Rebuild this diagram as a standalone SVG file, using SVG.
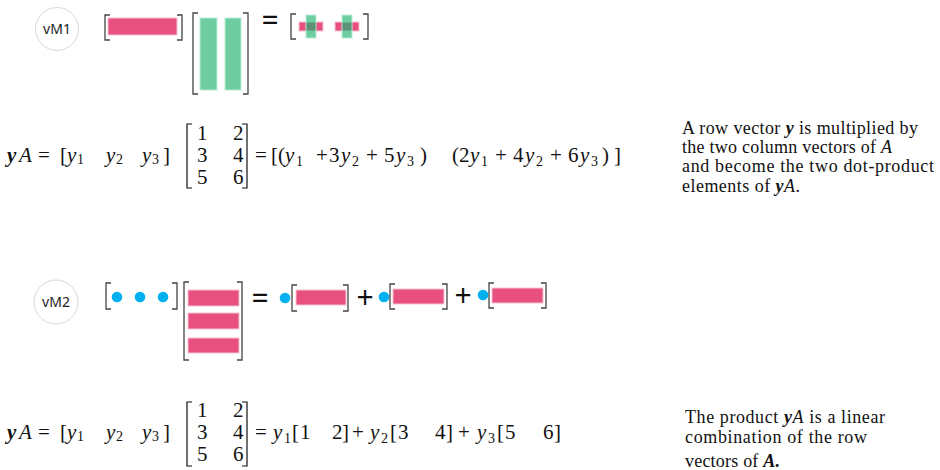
<svg xmlns="http://www.w3.org/2000/svg" width="940" height="470" viewBox="0 0 940 470">
<style>
.lbl{font-family:"Noto Sans","Open Sans",sans-serif;font-size:14px;fill:#222;text-anchor:middle}
.ring{fill:#fff;stroke:#d9d9d9;stroke-width:1}
.br{fill:none;stroke:#444;stroke-width:1.3}
.mbr{fill:none;stroke:#111;stroke-width:1.2}
.pk{fill:#E8507F;stroke:#f7c3d3;stroke-width:1}
.gr{fill:#6FCDA2;stroke:#bdeed6;stroke-width:1}
.ov{fill:#5E9078}
.dot{fill:#00B0F0}
.op{font-family:"Noto Sans","Open Sans",sans-serif;font-size:30px;fill:#111;text-anchor:middle}
.m{font-family:"Liberation Serif","Times New Roman",serif;font-size:21px;fill:#111}
.i{font-style:italic}
.bi{font-style:italic;font-weight:bold}
.s{font-size:14px}
.d{font-family:"Liberation Serif","Times New Roman",serif;font-size:18px;fill:#111}
</style>

<g id="vM1">
  <circle class="ring" cx="57" cy="29" r="21.5"/>
  <text class="lbl" x="57" y="34">vM1</text>
  <path class="br" d="M110,15 H105 V40 H110 M177,15 H182 V40 H177"/>
  <rect class="pk" x="108" y="18" width="69" height="17"/>
  <path class="br" d="M198,13 H193 V94 H198 M243,13 H248 V94 H243"/>
  <rect class="gr" x="200" y="18" width="17" height="72"/>
  <rect class="gr" x="225" y="18" width="16" height="72"/>
  <text class="op" x="270" y="31">=</text>
  <path class="br" d="M296,14 H291 V39 H296 M363,14 H368 V39 H363"/>
  <rect class="pk" x="299" y="22" width="24" height="9"/>
  <rect class="gr" x="306" y="15" width="10" height="23"/>
  <rect class="ov" x="306.5" y="22.5" width="9" height="8"/>
  <rect class="pk" x="335" y="22" width="24" height="9"/>
  <rect class="gr" x="342" y="15" width="10" height="23"/>
  <rect class="ov" x="342.5" y="22.5" width="9" height="8"/>
</g>

<g id="eq1" class="m">
  <text x="7" y="162" class="bi">y</text>
  <text x="19" y="162" class="i">A</text>
  <text x="38" y="162">=</text>
  <text x="60" y="162">[</text>
  <text x="67" y="162" class="i">y</text><text x="77" y="164" class="s">1</text>
  <text x="106" y="162" class="i">y</text><text x="116" y="164" class="s">2</text>
  <text x="142" y="162" class="i">y</text><text x="152" y="164" class="s">3</text>
  <text x="163" y="162">]</text>
  <path class="mbr" d="M192,124 H187 V188 H192 M242,124 H247 V188 H242"/>
  <text x="197" y="140">1</text><text x="233" y="140">2</text>
  <text x="197" y="162">3</text><text x="233" y="162">4</text>
  <text x="197" y="184">5</text><text x="233" y="184">6</text>
  <text x="255" y="162">=</text>
  <text x="271" y="162">[</text>
  <text x="278" y="162">(</text>
  <text x="285" y="162" class="i">y</text><text x="296" y="166" class="s">1</text>
  <text x="316" y="162">+</text>
  <text x="329" y="162">3</text>
  <text x="341" y="162" class="i">y</text><text x="352" y="166" class="s">2</text>
  <text x="366" y="162">+</text>
  <text x="384" y="162">5</text>
  <text x="396" y="162" class="i">y</text><text x="407" y="166" class="s">3</text>
  <text x="420" y="162">)</text>
  <text x="452" y="162">(</text>
  <text x="459" y="162">2</text>
  <text x="470" y="162" class="i">y</text><text x="481" y="166" class="s">1</text>
  <text x="495" y="162">+</text>
  <text x="513" y="162">4</text>
  <text x="525" y="162" class="i">y</text><text x="536" y="166" class="s">2</text>
  <text x="550" y="162">+</text>
  <text x="568" y="162">6</text>
  <text x="580" y="162" class="i">y</text><text x="591" y="166" class="s">3</text>
  <text x="602" y="162">)</text>
  <text x="614" y="162">]</text>
</g>

<g id="desc1" class="d">
  <text x="682" y="134" textLength="236" lengthAdjust="spacing">A row vector <tspan class="bi">y</tspan> is multiplied by</text>
  <text x="682" y="153" textLength="210" lengthAdjust="spacing">the two column vectors of <tspan class="i">A</tspan></text>
  <text x="682" y="172" textLength="252" lengthAdjust="spacing">and become the two dot-product</text>
  <text x="682" y="192" textLength="118" lengthAdjust="spacing">elements of <tspan class="bi">y</tspan><tspan class="i">A</tspan>.</text>
</g>

<g id="vM2">
  <circle class="ring" cx="56" cy="302" r="22"/>
  <text class="lbl" x="56" y="307">vM2</text>
  <path class="br" d="M111,283 H106 V309 H111 M172,283 H177 V309 H172"/>
  <circle class="dot" cx="117" cy="297" r="5.3"/>
  <circle class="dot" cx="140" cy="297" r="5.3"/>
  <circle class="dot" cx="163" cy="297" r="5.3"/>
  <path class="br" d="M189,282 H184 V360 H189 M237,282 H242 V360 H237"/>
  <rect class="pk" x="188" y="290" width="51" height="16"/>
  <rect class="pk" x="188" y="313" width="51" height="16"/>
  <rect class="pk" x="188" y="338" width="51" height="15"/>
  <text class="op" x="260" y="309">=</text>
  <circle class="dot" cx="285" cy="298" r="5.3"/>
  <path class="br" d="M297,285 H292 V311 H297 M343,285 H348 V311 H343"/>
  <rect class="pk" x="296" y="290" width="50" height="15"/>
  <text class="op" x="365" y="308">+</text>
  <circle class="dot" cx="384" cy="297" r="5.3"/>
  <path class="br" d="M395,284 H390 V309 H395 M442,284 H447 V309 H442"/>
  <rect class="pk" x="393" y="289" width="51" height="15"/>
  <text class="op" x="463" y="306">+</text>
  <circle class="dot" cx="483" cy="295" r="5.3"/>
  <path class="br" d="M494,283 H489 V308 H494 M541,283 H546 V308 H541"/>
  <rect class="pk" x="492" y="288" width="51" height="15"/>
</g>

<g id="eq2" class="m">
  <text x="7" y="439" class="bi">y</text>
  <text x="19" y="439" class="i">A</text>
  <text x="38" y="439">=</text>
  <text x="60" y="439">[</text>
  <text x="67" y="439" class="i">y</text><text x="77" y="441" class="s">1</text>
  <text x="106" y="439" class="i">y</text><text x="116" y="441" class="s">2</text>
  <text x="142" y="439" class="i">y</text><text x="152" y="441" class="s">3</text>
  <text x="163" y="439">]</text>
  <path class="mbr" d="M192,402 H187 V466 H192 M242,402 H247 V466 H242"/>
  <text x="197" y="417">1</text><text x="233" y="417">2</text>
  <text x="197" y="439">3</text><text x="233" y="439">4</text>
  <text x="197" y="461">5</text><text x="233" y="461">6</text>
  <text x="255" y="439">=</text>
  <text x="273" y="439" class="i">y</text><text x="284" y="443" class="s">1</text>
  <text x="292" y="439">[</text>
  <text x="300" y="439">1</text>
  <text x="332" y="439">2</text>
  <text x="342" y="439">]</text>
  <text x="352" y="439">+</text>
  <text x="370" y="439" class="i">y</text><text x="381" y="443" class="s">2</text>
  <text x="390" y="439">[</text>
  <text x="398" y="439">3</text>
  <text x="435" y="439">4</text>
  <text x="446" y="439">]</text>
  <text x="458" y="439">+</text>
  <text x="477" y="439" class="i">y</text><text x="488" y="443" class="s">3</text>
  <text x="497" y="439">[</text>
  <text x="505" y="439">5</text>
  <text x="543" y="439">6</text>
  <text x="554" y="439">]</text>
</g>

<g id="desc2" class="d">
  <text x="685" y="423" textLength="200" lengthAdjust="spacing">The product <tspan class="bi">y</tspan><tspan class="i">A</tspan> is a linear</text>
  <text x="685" y="443" textLength="182" lengthAdjust="spacing">combination of the row</text>
  <text x="685" y="467" textLength="95" lengthAdjust="spacing">vectors of <tspan class="bi">A.</tspan></text>
</g>
</svg>
